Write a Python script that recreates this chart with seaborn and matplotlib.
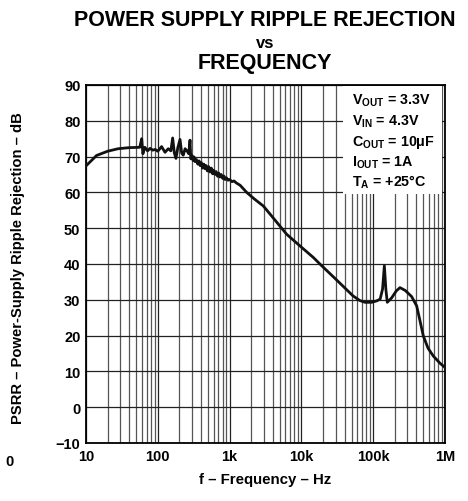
import matplotlib
matplotlib.use("Agg")
import matplotlib.pyplot as plt
import matplotlib.ticker as mticker
import seaborn as sns
import pandas as pd

# PSRR curve
freq = [10, 14, 20, 28, 40, 56, 59.7, 62, 66, 72, 78, 85, 92, 100, 113, 126, 140, 152,
        161, 170, 179, 190, 204, 215, 226, 240, 255, 270, 281, 288, 300, 310, 320, 330,
        345, 360, 375, 387, 405, 420, 437, 454, 470, 490, 510, 533, 555, 580, 600, 626,
        650, 680, 705, 735, 765, 800, 830, 863, 900, 950, 1000, 1080, 1150, 1250, 1400,
        1730, 2200, 2950, 4000, 6240, 9000, 14700, 18100, 30000, 52300, 65000, 77000,
        95000, 112000, 125000, 135000, 143000, 150000, 157000, 180000, 210000, 236000,
        280000, 343000, 403000, 450000, 499000, 580000, 687000, 850000, 1000000]
psrr = [67.4, 70.3, 71.5, 72.2, 72.5, 72.6, 75.0, 70.8, 72.6, 71.6, 72.3, 71.8, 72.0, 71.5,
        72.8, 71.2, 72.2, 71.6, 75.2, 71.0, 69.5, 72.5, 74.8, 71.0, 70.4, 72.2, 71.6, 70.8,
        74.6, 69.4, 70.3, 68.9, 69.9, 68.6, 69.2, 67.9, 68.8, 67.5, 68.3, 66.8, 67.9, 66.6,
        67.5, 66.0, 67.2, 65.7, 66.8, 65.2, 66.2, 65.0, 65.8, 64.5, 65.4, 64.3, 65.0, 63.9,
        64.6, 63.6, 64.1, 63.4, 63.6, 63.0, 63.2, 62.6, 62.0, 60.0, 58.2, 56.2, 53.0, 48.3,
        45.5, 41.8, 40.0, 35.8, 31.1, 29.8, 29.3, 29.3, 29.7, 30.2, 33.0, 39.5, 33.0, 29.3,
        30.5, 32.5, 33.4, 32.6, 30.9, 28.3, 24.0, 19.9, 16.5, 14.3, 12.3, 11.1]

xticks = [10, 100, 1e3, 1e4, 1e5, 1e6]
xlabels = ["10", "100", "1k", "10k", "100k", "1M"]
yticks = list(range(-10, 91, 10))

conditions = [r"V$_{\mathrm{OUT}}$ = 3.3V",
              r"V$_{\mathrm{IN}}$ = 4.3V",
              "C$_{\\mathrm{OUT}}$ = 10\u03bcF",
              r"I$_{\mathrm{OUT}}$ = 1A",
              "T$_{\\mathrm{A}}$ = +25\u00b0C"]

df = pd.DataFrame({"f": freq, "psrr": psrr})

sns.set_style("ticks")
plt.rcParams["font.family"] = ["Liberation Sans", "DejaVu Sans"]
plt.rcParams["font.weight"] = "bold"
plt.rcParams["text.color"] = "black"
plt.rcParams["axes.labelcolor"] = "black"
plt.rcParams["xtick.color"] = "black"
plt.rcParams["ytick.color"] = "black"
plt.rcParams["mathtext.fontset"] = "custom"
plt.rcParams["mathtext.rm"] = "Liberation Sans:bold"
plt.rcParams["mathtext.it"] = "Liberation Sans:bold"
plt.rcParams["mathtext.bf"] = "Liberation Sans:bold"

fig = plt.figure(figsize=(4.68, 5.02), dpi=100)
ax = fig.add_axes([86 / 468, 1 - 444 / 502, 359 / 468, 358 / 502])

sns.lineplot(data=df, x="f", y="psrr", ax=ax, color="#111111", linewidth=2, zorder=5)

ax.set_xscale("log")
ax.set_xlim(10, 1e6)
ax.set_ylim(-10, 90)
ax.set_xticks(xticks)
ax.set_xticklabels(xlabels)
ax.xaxis.set_minor_locator(mticker.LogLocator(base=10, subs=range(2, 10), numticks=20))
ax.xaxis.set_minor_formatter(mticker.NullFormatter())
ax.set_yticks(yticks)
ax.tick_params(which="both", length=0, labelsize=10.5, pad=4)
for lab in ax.get_xticklabels() + ax.get_yticklabels():
    lab.set_fontweight("bold")

ax.grid(True, which="major", axis="both", color="#222222", linewidth=0.9)
ax.grid(True, which="minor", axis="x", color="#555555", linewidth=0.9)
ax.set_axisbelow(True)
for s in ax.spines.values():
    s.set_linewidth(1.3)
    s.set_color("black")

ax.set_xlabel("f \u2013 Frequency \u2013 Hz", fontsize=10.8, fontweight="bold")
ax.set_ylabel("PSRR \u2013 Power-Supply Ripple Rejection \u2013 dB", fontsize=10.6,
              fontweight="bold")
ax.xaxis.set_label_coords(0.5, (444 - 480) / 358)
ax.xaxis.label.set_verticalalignment("center")
ax.yaxis.set_label_coords((18 - 86) / 359, 0.49)
ax.yaxis.label.set_verticalalignment("center")

# white box behind the test conditions
box = plt.Rectangle(((343 - 86) / 359, (444 - 195) / 358), (442 - 343) / 359,
                    (195 - 87) / 358, transform=ax.transAxes, facecolor="white",
                    edgecolor="none", zorder=3)
ax.add_patch(box)
for i, t in enumerate(conditions):
    fig.text(352 / 468, 1 - (105 + 20.4 * i) / 502, t, fontsize=10.3, fontweight="bold",
             va="baseline", ha="left", zorder=6)

fig.text(265 / 468, 1 - 20 / 502, "POWER SUPPLY RIPPLE REJECTION", fontsize=15.5,
         fontweight="bold", ha="center", va="center")
fig.text(265 / 468, 1 - 43 / 502, "vs", fontsize=12, fontweight="bold", ha="center",
         va="center")
fig.text(265 / 468, 1 - 63 / 502, "FREQUENCY", fontsize=15.5, fontweight="bold",
         ha="center", va="center")
fig.text(10 / 468, 1 - 462 / 502, "0", fontsize=10.5, fontweight="bold", ha="center",
         va="center")

fig.savefig("out.png", dpi=100)
